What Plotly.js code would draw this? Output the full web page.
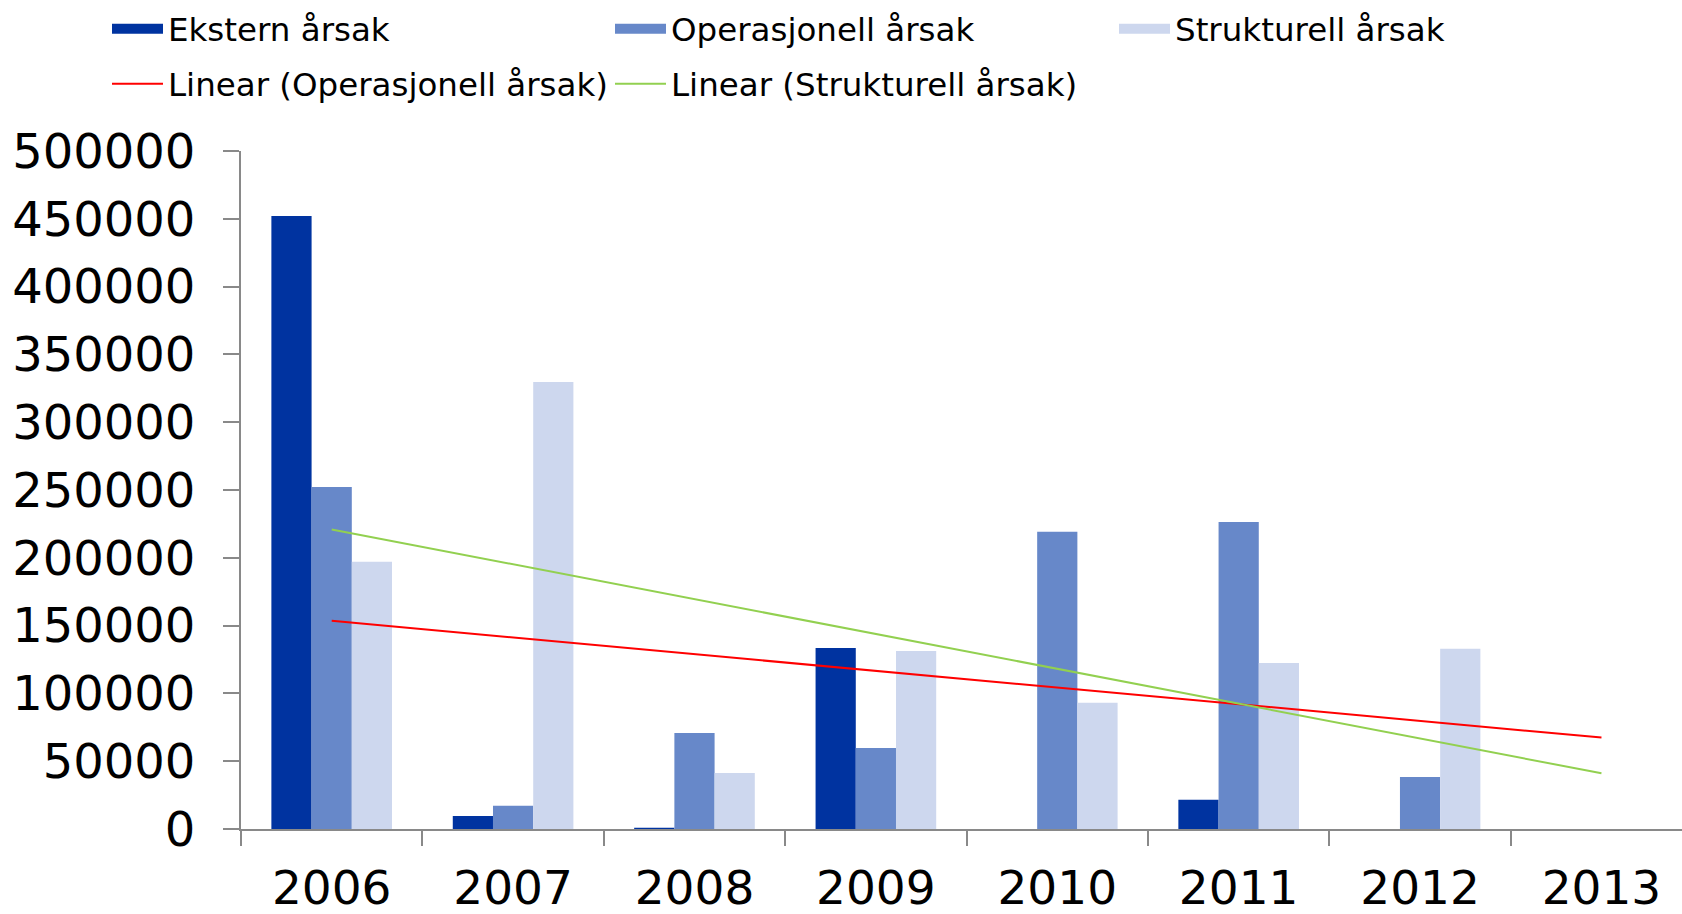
<!DOCTYPE html>
<html>
<head>
<meta charset="utf-8">
<script src="https://cdn.plot.ly/plotly-3.0.1.min.js"></script>
<style>html,body{margin:0;padding:0;background:#fff;}#chart{width:1682px;height:914px;}</style>
</head>
<body>
<div id="chart"></div>
<script>
const years = ['2006','2007','2008','2009','2010','2011','2012','2013'];
const ekstern = [452000, 9600, 1000, 133500, 0, 21600, 0, 0];
const operasjonell = [252200, 17200, 70800, 59700, 219200, 226400, 38300, 0];
const strukturell = [197100, 329600, 41300, 131300, 93100, 122400, 133000, 0];
const yTicks = [0, 50000, 100000, 150000, 200000, 250000, 300000, 350000, 400000, 450000, 500000];
const seriesNames = ['Ekstern årsak', 'Operasjonell årsak', 'Strukturell årsak'];
const trendNames = ['Linear (Operasjonell årsak)', 'Linear (Strukturell årsak)'];

function linearTrend(vals) {
  const n = vals.length;
  const xs = vals.map((_, i) => i + 1);
  const mx = xs.reduce((a, b) => a + b, 0) / n;
  const my = vals.reduce((a, b) => a + b, 0) / n;
  let sxy = 0, sxx = 0;
  for (let i = 0; i < n; i++) { sxy += (xs[i] - mx) * (vals[i] - my); sxx += (xs[i] - mx) ** 2; }
  const b = sxy / sxx, a = my - b * mx;
  return xs.map(x => a + b * x);
}

const font = 'DejaVu Sans, Verdana, sans-serif';
const colors = ['#0033a0', '#6788c9', '#cdd7ee'];
const seriesVals = [ekstern, operasjonell, strukturell];
const traces = [];
// bars
seriesVals.forEach((v, i) => {
  traces.push({type:'bar', name:seriesNames[i], x:years, y:v, marker:{color:colors[i], line:{width:0}}, showlegend:false, legendgroup:'s'+i});
});
// legend entries for the bar series (wide swatches like the original)
seriesVals.forEach((v, i) => {
  traces.push({type:'scatter', mode:'lines', name:seriesNames[i], x:[null], y:[null], line:{color:colors[i], width:17}, legendgroup:'s'+i, legend: i === 0 ? 'legend' : 'legend' + (i + 1), hoverinfo:'skip'});
});
traces.push({type:'scatter', mode:'lines', name:trendNames[0], x:years, y:linearTrend(operasjonell), line:{color:'#ff0000', width:2}, legend:'legend4'});
traces.push({type:'scatter', mode:'lines', name:trendNames[1], x:years, y:linearTrend(strukturell), line:{color:'#92d050', width:2}, legend:'legend5'});

function leg(xpx, ypx) {
  return {
    orientation:'h', xref:'container', yref:'container', xanchor:'left', yanchor:'middle',
    x:xpx / 1682, y:1 - ypx / 914, itemwidth:51,
    font:{family:font, size:32.5, color:'#000'}, bgcolor:'rgba(0,0,0,0)'
  };
}

const layout = {
  width:1682, height:914,
  margin:{l:241, r:0, t:151, b:85},
  paper_bgcolor:'#fff', plot_bgcolor:'#fff',
  font:{family:font, color:'#000'},
  barmode:'group', bargap:0.335, bargroupgap:0,
  showlegend:true,
  legend:leg(107, 29),
  legend2:leg(610, 29),
  legend3:leg(1114, 29),
  legend4:leg(107, 84),
  legend5:leg(610, 84),
  xaxis:{
    type:'category', categoryorder:'array', categoryarray:years,
    range:[-0.5, 7.444], fixedrange:true,
    showline:true, linecolor:'#898989', linewidth:2,
    ticks:'outside', tickson:'boundaries', ticklen:15, tickwidth:2, tickcolor:'#898989',
    showgrid:false, zeroline:false, ticklabelstandoff:17,
    tickfont:{family:font, size:47, color:'#000'}
  },
  yaxis:{
    range:[0, 500000], fixedrange:true,
    tickvals:yTicks, ticktext:yTicks.map(String),
    showline:true, linecolor:'#898989', linewidth:2,
    ticks:'outside', ticklen:16, tickwidth:2, tickcolor:'#898989',
    showgrid:false, zeroline:false, ticklabelstandoff:18,
    tickfont:{family:font, size:48, color:'#000'}
  }
};

Plotly.newPlot('chart', traces, layout, {displayModeBar:false, staticPlot:true});
</script>
</body>
</html>
